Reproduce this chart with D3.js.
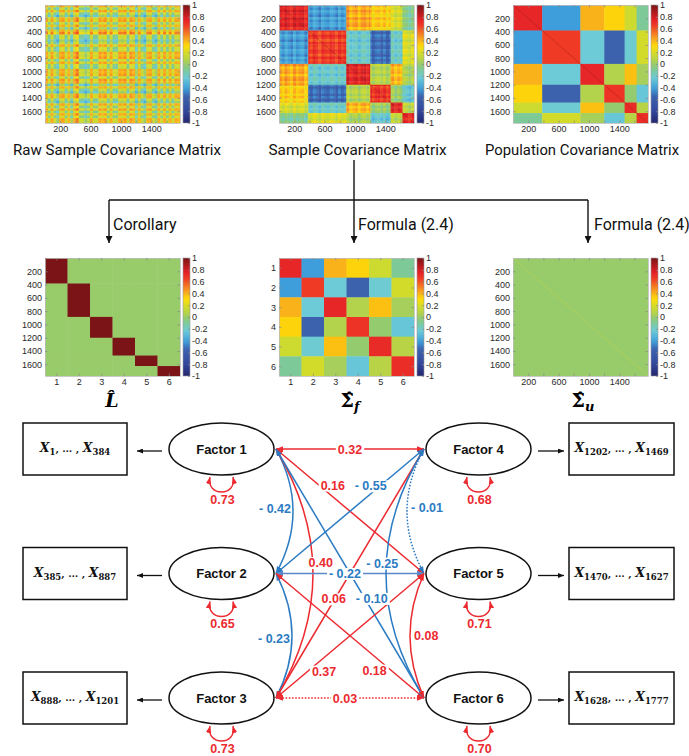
<!DOCTYPE html>
<html>
<head>
<meta charset="utf-8">
<script src="https://cdn.jsdelivr.net/npm/d3@7/dist/d3.min.js"></script>
<style>
  html, body { margin: 0; padding: 0; background: #fff; }
  svg { display: block; }
</style>
</head>
<body>
<script>
// ---------------- data ----------------
// variables per factor block: X1..X384, X385..X887, ...
const groupSizes = [384, 503, 314, 268, 158, 150];
const factorNames = ["Factor 1", "Factor 2", "Factor 3", "Factor 4", "Factor 5", "Factor 6"];
const factorVariances = [0.73, 0.65, 0.73, 0.68, 0.71, 0.70];
// [factor a, factor b, covariance]
const factorCovariances = [
  [0, 1, -0.42], [0, 2, 0.40], [0, 3, 0.32], [0, 4, 0.16], [0, 5, -0.10],
  [1, 2, -0.23], [1, 3, -0.55], [1, 4, -0.22], [1, 5, 0.18],
  [2, 3, 0.06], [2, 4, 0.37], [2, 5, 0.03],
  [3, 4, -0.01], [3, 5, -0.25], [4, 5, 0.08]
];
// row/column banding of the raw sample covariance (48 bands over the 1777 variables)
const rawBase = 0.14;
const rawStripe = [0.14, -0.12, 0.15, -0.10, -0.26, 0.13, 0.16, -0.12, 0.12, -0.22, 0.14, 0.24,
  -0.11, -0.13, -0.26, -0.14, 0.14, -0.10, -0.12, 0.16, 0.12, 0.17, -0.11, 0.14,
  -0.10, -0.14, 0.15, 0.12, 0.17, -0.11, 0.18, 0.13, -0.24, 0.12, -0.13, -0.26,
  0.13, 0.15, -0.11, -0.24, 0.14, -0.10, 0.15, -0.12, 0.13, -0.10, 0.14, 0.12];
// banding of the sample covariance around the block values
const sampleStripe = [0.04, -0.03, 0.06, 0.00, -0.05, 0.07, -0.02, 0.03, 0.05, -0.06, 0.02, -0.04,
  0.06, 0.01, -0.07, 0.04, 0.00, -0.03, 0.05, 0.02, -0.05, 0.06, -0.02, 0.03,
  0.07, -0.04, 0.01, 0.04, -0.06, 0.03, 0.05, -0.02, 0.06, -0.05, 0.02, 0.04,
  -0.03, 0.05, -0.06, 0.02, 0.06, -0.04, 0.03, -0.02, 0.05, 0.01, -0.05, 0.04];
const indexTicks = [200, 400, 600, 800, 1000, 1200, 1400, 1600];
const indexLabels = [200, 600, 1000, 1400];
const factorTicks = [1, 2, 3, 4, 5, 6];
const colorTicks = [1, 0.8, 0.6, 0.4, 0.2, 0, -0.2, -0.4, -0.6, -0.8, -1];
const panelTitles = ["Raw Sample Covariance Matrix", "Sample Covariance Matrix", "Population Covariance Matrix"];

// ---------------- styles ----------------
const colorDomain = [-1, -0.8, -0.55, -0.42, -0.23, -0.1, 0, 0.06, 0.17, 0.3, 0.37, 0.42, 0.65, 0.75, 1];
const colorRange = ["#24266e", "#33479c", "#3c62ae", "#3d9edb", "#6ccbd6", "#7dca98", "#98cb6a",
  "#b3d34c", "#d0db2d", "#fddc0a", "#fcc012", "#f9a81f", "#ef3b26", "#e52127", "#7a1416"];
const RED = "#ec2a30", BLUE = "#2b7bc3", SOFTBLUE = "#5a88c8";
const PW = 135, PH = 118, CBW = 7;

// edge geometry (bend = horizontal offset of the quadratic control point)
const edgeShapes = {
  "0-1": { bend: 34, t: 0.48, dx: -2, anchor: "end" },
  "0-2": { bend: 74, t: 0.456, dx: 8 },
  "0-3": { t: 0.5 },
  "0-4": { t: 0.33, dx: 8, dy: -5 },
  "0-5": { t: 0.6, dx: 7 },
  "1-2": { bend: 32, t: 0.52, dx: -2, anchor: "end" },
  "1-3": { t: 0.68, dx: -6, dy: -3 },
  "1-4": { t: 0.466, soft: true },
  "1-5": { t: 0.72, dx: -8, dy: 7 },
  "2-3": { t: 0.39, dy: -2 },
  "2-4": { t: 0.264, dx: 9, dy: 6 },
  "2-5": { t: 0.466, dotted: true },
  "3-4": { bend: -34, t: 0.47, dx: 4, anchor: "start", dotted: true },
  "3-5": { bend: -76, t: 0.458, dx: -4 },
  "4-5": { bend: -28, t: 0.5, dx: 4, anchor: "start" }
};

// ---------------- derived ----------------
const N = d3.sum(groupSizes);
const groupEdges = Array.from(d3.cumsum([0, ...groupSizes]));
const sigmaF = factorVariances.map((v, i) => factorVariances.map((_, j) => (i === j ? v : 0)));
factorCovariances.forEach(([a, b, v]) => { sigmaF[a][b] = v; sigmaF[b][a] = v; });

const color = d3.scaleLinear().domain(colorDomain).range(colorRange).clamp(true);

const svg = d3.select("body").append("svg").attr("width", 689).attr("height", 756);
const defs = svg.append("defs");

// shared colorbar gradient
const grad = defs.append("linearGradient").attr("id", "jet")
  .attr("x1", 0).attr("y1", 1).attr("x2", 0).attr("y2", 0);
d3.range(0, 1.0001, 0.02).forEach(f => {
  grad.append("stop").attr("offset", f).attr("stop-color", color(-1 + 2 * f));
});

// arrowhead markers
function marker(id, fill, len, wid) {
  defs.append("marker").attr("id", id)
    .attr("viewBox", `0 0 ${len} ${wid}`).attr("refX", len).attr("refY", wid / 2)
    .attr("markerWidth", len).attr("markerHeight", wid)
    .attr("markerUnits", "userSpaceOnUse").attr("orient", "auto-start-reverse")
    .append("path").attr("d", `M0,0 L${len},${wid / 2} L0,${wid} Z`).attr("fill", fill);
}
marker("ah-black", "#111", 7, 7);
marker("ah-small", "#111", 6, 5);
marker("ah-red", RED, 7, 5.5);
marker("ah-blue", BLUE, 7, 5.5);
marker("ah-soft", SOFTBLUE, 7, 5.5);

// split the variable axis into pieces that respect both bands and factor blocks
function axisSegments(bins) {
  const be = d3.range(bins + 1).map(k => Math.round(k * N / bins));
  const all = Array.from(new Set(be.concat(groupEdges))).sort((a, b) => a - b);
  return d3.pairs(all).map(([s, e]) => {
    const m = (s + e) / 2;
    return { s, e, bin: Math.min(bins - 1, Math.floor(m * bins / N)), grp: d3.bisectRight(groupEdges, m) - 1 };
  });
}
const segs = axisSegments(rawStripe.length);

const rawCells = [], sampleCells = [];
segs.forEach(si => segs.forEach(sj => {
  rawCells.push({ x0: sj.s, x1: sj.e, y0: si.s, y1: si.e, v: rawBase + rawStripe[si.bin] + rawStripe[sj.bin] });
  sampleCells.push({ x0: sj.s, x1: sj.e, y0: si.s, y1: si.e,
    v: sigmaF[si.grp][sj.grp] + sampleStripe[si.bin] + sampleStripe[sj.bin] });
}));
const popCells = [];
groupSizes.forEach((_, i) => groupSizes.forEach((_, j) => {
  popCells.push({ x0: groupEdges[j], x1: groupEdges[j + 1], y0: groupEdges[i], y1: groupEdges[i + 1], v: sigmaF[i][j] });
}));
const loadCells = [];
groupSizes.forEach((_, g) => factorTicks.forEach((k, kk) => {
  loadCells.push({ x0: k - 0.5, x1: k + 0.5, y0: groupEdges[g], y1: groupEdges[g + 1], v: g === kk ? 1 : 0 });
}));
const sfCells = [];
sigmaF.forEach((row, i) => row.forEach((v, j) => {
  sfCells.push({ x0: j + 0.5, x1: j + 1.5, y0: i + 0.5, y1: i + 1.5, v });
}));
const suCells = [{ x0: 0, x1: N, y0: 0, y1: N, v: 0 }];

// ---------------- heatmap panels ----------------
const tickFont = "9px 'Liberation Sans', Arial, sans-serif";
function styleAxis(sel) {
  sel.attr("font-family", null).attr("font-size", null);
  sel.select(".domain").attr("stroke", "#bdbdbd").attr("stroke-width", 0.8);
  sel.selectAll(".tick line").attr("stroke", "#8a8a8a").attr("stroke-width", 0.7);
  sel.selectAll(".tick text").attr("fill", "#2a2a2a").style("font", tickFont);
}
const fmtC = d => (d < 0 ? "-" : "") + String(Math.abs(d));
let uid = 0;
function drawPanel(o) {
  const id = "clip" + (uid++);
  const g = svg.append("g");
  const x = d3.scaleLinear().domain(o.xDomain).range([o.left, o.left + PW]);
  const y = d3.scaleLinear().domain(o.yDomain).range([o.top, o.top + PH]);
  defs.append("clipPath").attr("id", id).append("rect")
    .attr("x", o.left).attr("y", o.top).attr("width", PW).attr("height", PH);
  const cg = g.append("g").attr("clip-path", `url(#${id})`);
  cg.selectAll("rect").data(o.cells).join("rect")
    .attr("x", d => x(d.x0)).attr("y", d => y(d.y0))
    .attr("width", d => x(d.x1) - x(d.x0) + 0.4).attr("height", d => y(d.y1) - y(d.y0) + 0.4)
    .attr("fill", d => color(d.v));
  if (o.diag) {
    cg.append("line")
      .attr("x1", x(o.xDomain[0])).attr("y1", y(o.yDomain[0]))
      .attr("x2", x(o.xDomain[1])).attr("y2", y(o.yDomain[1]))
      .attr("stroke", o.diag).attr("stroke-opacity", 0.55).attr("stroke-width", 0.8);
  }
  g.append("g").attr("transform", `translate(0,${o.top + PH})`)
    .call(d3.axisBottom(x).tickValues(o.xTicks).tickFormat(o.xFormat).tickSizeInner(-2.5).tickSizeOuter(0).tickPadding(2.5))
    .call(styleAxis);
  g.append("g").attr("transform", `translate(0,${o.top})`)
    .call(d3.axisTop(x).tickValues(o.xTicks).tickFormat("").tickSizeInner(-2.5).tickSizeOuter(0))
    .call(styleAxis);
  g.append("g").attr("transform", `translate(${o.left},0)`)
    .call(d3.axisLeft(y).tickValues(o.yTicks).tickFormat(o.yFormat).tickSizeInner(-2.5).tickSizeOuter(0).tickPadding(3))
    .call(styleAxis);
  g.append("g").attr("transform", `translate(${o.left + PW},0)`)
    .call(d3.axisRight(y).tickValues(o.yTicks).tickFormat("").tickSizeInner(-2.5).tickSizeOuter(0))
    .call(styleAxis);
  // colorbar
  const cbx = o.left + PW + 3;
  const cy = d3.scaleLinear().domain([-1, 1]).range([o.top + PH, o.top]);
  g.append("rect").attr("x", cbx).attr("y", o.top).attr("width", CBW).attr("height", PH)
    .attr("fill", "url(#jet)").attr("stroke", "#9a9a9a").attr("stroke-width", 0.6);
  g.append("g").attr("transform", `translate(${cbx + CBW},0)`)
    .call(d3.axisRight(cy).tickValues(colorTicks).tickFormat(fmtC).tickSizeInner(-2).tickSizeOuter(0).tickPadding(2))
    .call(styleAxis)
    .call(s => s.select(".domain").remove());
}

const cols = [45, 279, 513];
const rows = [5, 258];
const idxFmtX = d => (indexLabels.includes(d) ? d : "");
const idxFmtY = d => d;
const facFmt = d => d;

drawPanel({ left: cols[0], top: rows[0], cells: rawCells, xDomain: [0, N], yDomain: [0, N],
  xTicks: indexTicks, xFormat: idxFmtX, yTicks: indexTicks, yFormat: idxFmtY });
drawPanel({ left: cols[1], top: rows[0], cells: sampleCells, xDomain: [0, N], yDomain: [0, N],
  xTicks: indexTicks, xFormat: idxFmtX, yTicks: indexTicks, yFormat: idxFmtY, diag: "#a3161a" });
drawPanel({ left: cols[2], top: rows[0], cells: popCells, xDomain: [0, N], yDomain: [0, N],
  xTicks: indexTicks, xFormat: idxFmtX, yTicks: indexTicks, yFormat: idxFmtY, diag: "#a3161a" });
drawPanel({ left: cols[0], top: rows[1], cells: loadCells, xDomain: [0.5, 6.5], yDomain: [0, N],
  xTicks: factorTicks, xFormat: facFmt, yTicks: indexTicks, yFormat: idxFmtY });
drawPanel({ left: cols[1], top: rows[1], cells: sfCells, xDomain: [0.5, 6.5], yDomain: [0.5, 6.5],
  xTicks: factorTicks, xFormat: facFmt, yTicks: factorTicks, yFormat: facFmt });
drawPanel({ left: cols[2], top: rows[1], cells: suCells, xDomain: [0, N], yDomain: [0, N],
  xTicks: indexTicks, xFormat: idxFmtX, yTicks: indexTicks, yFormat: idxFmtY, diag: "#c9d64a" });

// ---------------- captions and flow ----------------
const capFont = "15px Roboto, 'Open Sans', sans-serif";
const flowFont = "16px Roboto, 'Open Sans', sans-serif";
const capCenters = [117, 357.5, 582];
const capWidths = [208, 178, 194];
panelTitles.forEach((t, i) => {
  svg.append("text").attr("x", capCenters[i]).attr("y", 155).attr("text-anchor", "middle")
    .attr("textLength", capWidths[i]).attr("lengthAdjust", "spacingAndGlyphs")
    .style("font", capFont).attr("fill", "#111").text(t);
});
const flow = svg.append("g").attr("stroke", "#111").attr("stroke-width", 1.4).attr("fill", "none");
flow.append("path").attr("d", "M354,160 V243").attr("marker-end", "url(#ah-black)");
flow.append("path").attr("d", "M109,200 H588");
flow.append("path").attr("d", "M109,200 V243").attr("marker-end", "url(#ah-black)");
flow.append("path").attr("d", "M588,200 V243").attr("marker-end", "url(#ah-black)");
[["Corollary", 113], ["Formula (2.4)", 358], ["Formula (2.4)", 594]].forEach(([t, x]) => {
  svg.append("text").attr("x", x).attr("y", 230).style("font", flowFont).attr("fill", "#111").text(t);
});

// estimator symbols under the middle row
const symFont = "'DejaVu Serif', 'Liberation Serif', serif";
const symL = svg.append("text").attr("x", 112).attr("y", 407).attr("text-anchor", "middle")
  .style("font-family", symFont).style("font-size", "19px").style("font-weight", "bold");
symL.append("tspan").style("font-style", "italic").text("L\u0302");
[["f", 350], ["u", 583]].forEach(([s, x]) => {
  const t = svg.append("text").attr("x", x).attr("y", 407).attr("text-anchor", "middle")
    .style("font-family", symFont).style("font-size", "19px").style("font-weight", "bold");
  t.append("tspan").text("\u03A3\u0302");
  t.append("tspan").attr("dy", 4).style("font-size", "13px").style("font-style", "italic").text(s);
});

// ---------------- factor diagram ----------------
const colX = d3.scalePoint().domain([0, 1]).range([221.5, 478.5]);
const rowY = d3.scalePoint().domain([0, 1, 2]).range([449, 698]);
const RX = 52.5, RY = 26;
const factors = factorNames.map((name, i) => ({
  name, i, cx: colX(i < 3 ? 0 : 1), cy: rowY(i % 3), side: i < 3 ? -1 : 1
}));
const anchorOf = i => [factors[i].cx - factors[i].side * (RX + 2), factors[i].cy];
const dg = svg.append("g");

// observed-variable boxes
factors.forEach((f, i) => {
  const bx = f.side < 0 ? f.cx - 198.5 : f.cx + 90.5;
  const bw = f.side < 0 ? 104 : 105;
  dg.append("rect").attr("x", bx).attr("y", f.cy - 26).attr("width", bw).attr("height", 52)
    .attr("fill", "#fff").attr("stroke", "#111").attr("stroke-width", 1.5);
  const t = dg.append("text").attr("x", bx + bw / 2).attr("y", f.cy + 3).attr("text-anchor", "middle")
    .style("font-family", symFont).style("font-weight", "bold").attr("fill", "#111");
  t.append("tspan").style("font-style", "italic").style("font-size", "12.5px").text("X");
  t.append("tspan").attr("dy", 3).style("font-size", "8.5px").text(groupEdges[i] + 1);
  t.append("tspan").attr("dy", -3).style("font-size", "10px").text(", \u2026 , ");
  t.append("tspan").style("font-style", "italic").style("font-size", "12.5px").text("X");
  t.append("tspan").attr("dy", 3).style("font-size", "8.5px").text(groupEdges[i + 1]);
  // arrow from factor to its variables
  const x1 = f.side < 0 ? f.cx - RX - 7 : f.cx + RX + 7;
  const x2 = f.side < 0 ? bx + bw + 10 : bx - 5;
  dg.append("line").attr("x1", x1).attr("x2", x2).attr("y1", f.cy + 2).attr("y2", f.cy + 2)
    .attr("stroke", "#111").attr("stroke-width", 1.3).attr("marker-end", "url(#ah-small)");
});

// factor ellipses
factors.forEach(f => {
  dg.append("ellipse").attr("cx", f.cx).attr("cy", f.cy).attr("rx", RX).attr("ry", RY)
    .attr("fill", "#fff").attr("stroke", "#111").attr("stroke-width", 1.5);
  dg.append("text").attr("x", f.cx).attr("y", f.cy + 4.5).attr("text-anchor", "middle")
    .style("font", "bold 13px 'Liberation Sans', Arial, sans-serif").attr("fill", "#111").text(f.name);
});

const fmtV = v => (v < 0 ? "- " : "") + Math.abs(v).toFixed(2);
const labelFont = "bold 12.5px 'Liberation Sans', Arial, sans-serif";

// covariance edges
const edgeG = dg.append("g").attr("fill", "none").attr("stroke-width", 1.5);
const labelG = dg.append("g");
factorCovariances.forEach(([a, b, v]) => {
  const s = edgeShapes[a + "-" + b];
  const [ax, ay] = anchorOf(a), [bx, by] = anchorOf(b);
  const col = s.soft ? SOFTBLUE : (v < 0 ? BLUE : RED);
  const mk = s.soft ? "ah-soft" : (v < 0 ? "ah-blue" : "ah-red");
  let d, pt;
  if (s.bend) {
    const qx = (ax + bx) / 2 + s.bend, qy = (ay + by) / 2;
    d = `M${ax},${ay} Q${qx},${qy} ${bx},${by}`;
    pt = t => [(1 - t) * (1 - t) * ax + 2 * t * (1 - t) * qx + t * t * bx,
               (1 - t) * (1 - t) * ay + 2 * t * (1 - t) * qy + t * t * by];
  } else {
    d = `M${ax},${ay} L${bx},${by}`;
    pt = t => [ax + t * (bx - ax), ay + t * (by - ay)];
  }
  edgeG.append("path").attr("d", d).attr("stroke", col)
    .attr("stroke-dasharray", s.dotted ? "1.6,1.6" : null)
    .attr("marker-start", `url(#${mk})`).attr("marker-end", `url(#${mk})`);
  const [lx, ly] = pt(s.t);
  const lg = labelG.append("g");
  const bg = lg.append("rect").attr("fill", "#fff");
  const tx = lg.append("text").attr("x", lx + (s.dx || 0)).attr("y", ly + (s.dy || 0)).attr("dy", "0.36em")
    .attr("text-anchor", s.anchor || "middle").style("font", labelFont)
    .attr("fill", v < 0 ? BLUE : RED).text(fmtV(v));
  if (!s.anchor) {
    const bb = tx.node().getBBox();
    bg.attr("x", bb.x - 2).attr("y", bb.y + 1).attr("width", bb.width + 4).attr("height", bb.height - 2);
  } else bg.remove();
});

// variance self-loops
factors.forEach((f, i) => {
  const y0 = f.cy + RY + 2;
  dg.append("path")
    .attr("d", `M${f.cx - 11.5},${y0} C${f.cx - 16},${y0 + 20} ${f.cx + 16},${y0 + 20} ${f.cx + 11.5},${y0}`)
    .attr("fill", "none").attr("stroke", RED).attr("stroke-width", 1.5)
    .attr("marker-start", "url(#ah-red)").attr("marker-end", "url(#ah-red)");
  dg.append("text").attr("x", f.cx + 1).attr("y", y0 + 26.5).attr("text-anchor", "middle")
    .style("font", labelFont).attr("fill", RED).text(factorVariances[i].toFixed(2));
});
</script>
</body>
</html>
